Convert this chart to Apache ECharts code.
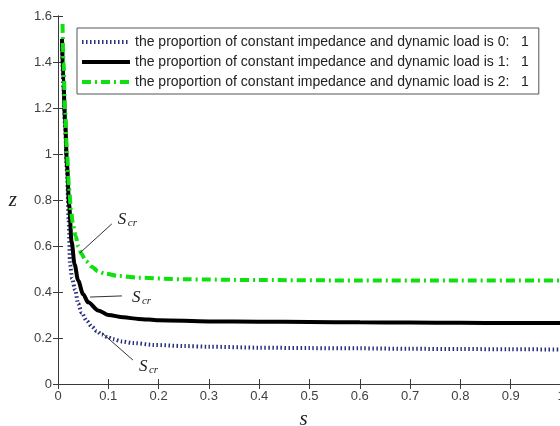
<!DOCTYPE html>
<html>
<head>
<meta charset="utf-8">
<script src="https://cdn.jsdelivr.net/npm/echarts@6/dist/echarts.min.js"></script>
<style>
  html, body { margin: 0; padding: 0; background: #fff; }
  #main { width: 560px; height: 426px; }
</style>
</head>
<body>
<div id="main"></div>
<script>
// s values and z values
const sRatio0 = [0.008, 0.011, 0.014, 0.018, 0.021, 0.024, 0.028, 0.034, 0.04, 0.047, 0.057, 0.067, 0.077, 0.087, 0.1, 0.11, 0.127, 0.15, 0.19, 0.25, 0.3, 0.4, 0.5, 0.6, 0.7, 0.8, 0.9, 1.0];
const zRatio0 = [1.49, 1.28, 1.12, 0.92, 0.72, 0.52, 0.46, 0.41, 0.35, 0.31, 0.275, 0.25, 0.23, 0.215, 0.202, 0.195, 0.185, 0.178, 0.17, 0.165, 0.162, 0.158, 0.156, 0.155, 0.153, 0.152, 0.151, 0.15];

const sRatio1 = [0.008, 0.011, 0.014, 0.018, 0.022, 0.027, 0.033, 0.04, 0.05, 0.06, 0.08, 0.1, 0.13, 0.16, 0.2, 0.3, 0.4, 0.5, 0.6, 0.7, 0.8, 0.9, 1.0];
const zRatio1 = [1.5, 1.3, 1.15, 0.95, 0.78, 0.62, 0.52, 0.45, 0.39, 0.355, 0.32, 0.3, 0.29, 0.283, 0.277, 0.272, 0.271, 0.27, 0.268, 0.267, 0.266, 0.265, 0.265];

const sRatio2 = [0.009, 0.011, 0.014, 0.018, 0.022, 0.026, 0.03, 0.035, 0.04, 0.047, 0.055, 0.067, 0.08, 0.093, 0.12, 0.16, 0.25, 0.4, 0.6, 0.8, 1.0];
const zRatio2 = [1.565, 1.4, 1.19, 1.0, 0.85, 0.75, 0.69, 0.645, 0.6, 0.565, 0.535, 0.51, 0.49, 0.48, 0.47, 0.462, 0.455, 0.452, 0.45, 0.45, 0.45];

const seriesNames = [
  "the proportion of constant impedance and dynamic load is 0:   1",
  "the proportion of constant impedance and dynamic load is 1:   1",
  "the proportion of constant impedance and dynamic load is 2:   1",
];

// S_cr callouts: [line start, line end, text position] in (s, z)
const scrNotes = [
  { from: [0.0437, 0.57], to: [0.107, 0.696], text: [0.119, 0.717] },
  { from: [0.0636, 0.378], to: [0.127, 0.383], text: [0.147, 0.378] },
  { from: [0.0875, 0.222], to: [0.149, 0.104], text: [0.161, 0.078] },
];

const pairs = (xs, ys) => xs.map((x, i) => [x, ys[i]]);

const chart = echarts.init(document.getElementById("main"));

const axisLine = { lineStyle: { color: "#3a3a3a", width: 1 } };
const tickStyle = { inside: true, length: 5, lineStyle: { color: "#3a3a3a" } };
const labelStyle = { color: "#404040", fontSize: 13, fontFamily: "Liberation Sans, Arial" };
const mathFont = "Liberation Serif, Times New Roman, serif";

const option = {
  animation: false,
  backgroundColor: "#fff",
  grid: { left: 58, top: 16, width: 503, height: 368, outerBoundsMode: "none", containLabel: false },
  legend: {
    orient: "vertical",
    left: 77,
    top: 28,
    itemWidth: 48,
    itemHeight: 14,
    itemGap: 6,
    padding: [7, 10, 5, 3],
    borderColor: "#555",
    borderWidth: 1,
    backgroundColor: "#fff",
    itemStyle: { opacity: 0 },
    lineStyle: { width: 4 },
    textStyle: { color: "#222", fontSize: 14, fontFamily: "Liberation Sans, Arial" },
    data: seriesNames,
  },
  xAxis: [
    {
      type: "value",
      min: 0,
      max: 1,
      interval: 0.1,
      name: "s",
      nameLocation: "middle",
      nameGap: 25,
      nameTextStyle: { fontFamily: mathFont, fontStyle: "italic", fontSize: 21, color: "#222", padding: [0, 12, 0, 0] },
      axisLine: axisLine,
      axisTick: tickStyle,
      axisLabel: Object.assign({ margin: 6 }, labelStyle),
      splitLine: { show: false },
    },
    {
      type: "value",
      position: "top",
      min: 0,
      max: 1,
      interval: 0.1,
      axisLine: axisLine,
      axisTick: tickStyle,
      axisLabel: { show: false },
      splitLine: { show: false },
    },
  ],
  yAxis: [
    {
      type: "value",
      min: 0,
      max: 1.6,
      interval: 0.2,
      name: "z",
      nameLocation: "middle",
      nameGap: 41,
      nameRotate: 0,
      nameTextStyle: { fontFamily: mathFont, fontStyle: "italic", fontSize: 21, color: "#222", padding: [0, 0, 30, 0] },
      axisLine: axisLine,
      axisTick: tickStyle,
      axisLabel: Object.assign({ margin: 6 }, labelStyle),
      splitLine: { show: false },
    },
    {
      type: "value",
      position: "right",
      min: 0,
      max: 1.6,
      interval: 0.2,
      axisLine: axisLine,
      axisTick: tickStyle,
      axisLabel: { show: false },
      splitLine: { show: false },
    },
  ],
  series: [
    {
      name: seriesNames[0],
      type: "line",
      symbol: "none",
      smooth: 0.3,
      smoothMonotone: "x",
      lineStyle: { color: "#26307a", width: 4, type: [1.5, 2.5] },
      itemStyle: { color: "#26307a" },
      data: pairs(sRatio0, zRatio0),
      z: 3,
    },
    {
      name: seriesNames[1],
      type: "line",
      symbol: "none",
      smooth: 0.3,
      smoothMonotone: "x",
      lineStyle: { color: "#000", width: 4 },
      itemStyle: { color: "#000" },
      data: pairs(sRatio1, zRatio1),
      z: 4,
    },
    {
      name: seriesNames[2],
      type: "line",
      symbol: "none",
      smooth: 0.3,
      smoothMonotone: "x",
      lineStyle: { color: "#10e010", width: 4, type: [9, 4, 2, 4] },
      itemStyle: { color: "#10e010" },
      data: pairs(sRatio2, zRatio2),
      z: 5,
    },
  ],
};

chart.setOption(option);

// callout lines and S_cr labels, placed through the grid's coordinate system
const toPx = (p) => chart.convertToPixel({ gridIndex: 0 }, p);
const notes = [];
scrNotes.forEach((n) => {
  const a = toPx(n.from);
  const b = toPx(n.to);
  const t = toPx(n.text);
  notes.push({
    type: "line",
    shape: { x1: a[0], y1: a[1], x2: b[0], y2: b[1] },
    style: { stroke: "#333", lineWidth: 1 },
    z: 10,
  });
  notes.push({
    type: "text",
    x: t[0],
    y: t[1],
    style: {
      text: "S",
      font: "italic 17px " + mathFont,
      fill: "#222",
      textAlign: "left",
      textVerticalAlign: "middle",
    },
    z: 10,
  });
  notes.push({
    type: "text",
    x: t[0] + 10,
    y: t[1] + 4,
    style: {
      text: "cr",
      font: "italic 11px " + mathFont,
      fill: "#222",
      textAlign: "left",
      textVerticalAlign: "middle",
    },
    z: 10,
  });
});
chart.setOption({ graphic: notes });
</script>
</body>
</html>
